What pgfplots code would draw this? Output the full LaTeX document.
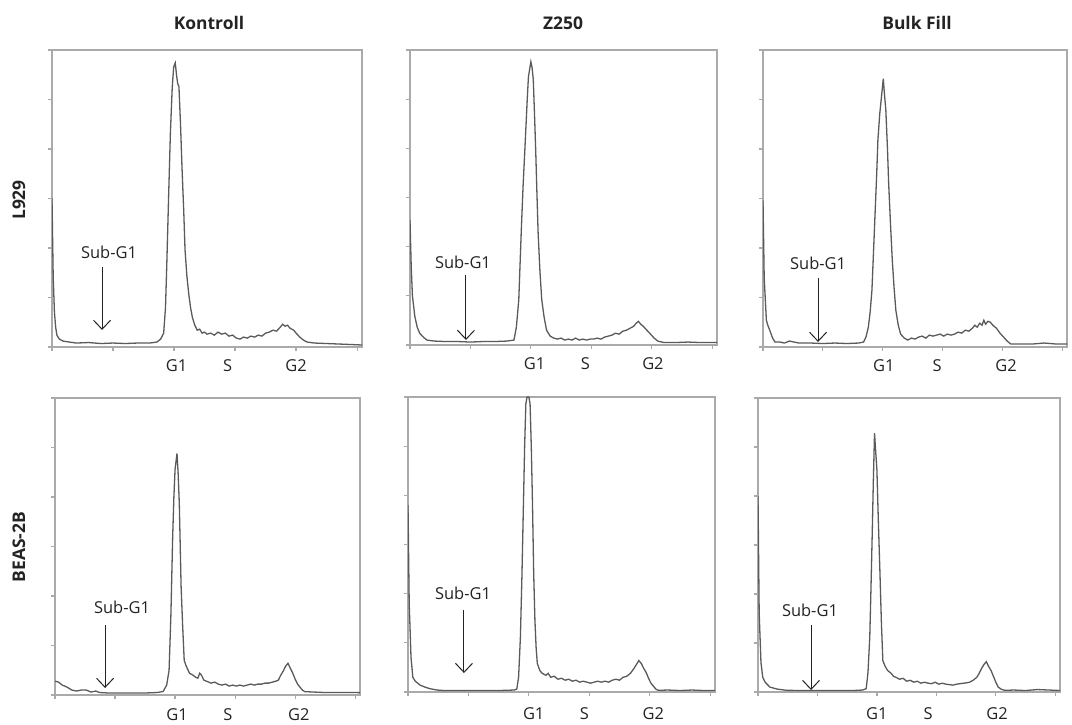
\documentclass[border=0pt]{standalone}
\usepackage{fontspec}
\setmainfont{Open Sans}
\usepackage{pgfplots}
\pgfplotsset{compat=1.18}
\usetikzlibrary{arrows.meta}
\definecolor{curvec}{RGB}{90,90,90}
\definecolor{framec}{RGB}{170,170,170}
\definecolor{txt}{RGB}{35,35,35}

\pgfplotsset{
 hist/.style={scale only axis, xmin=0, xmax=254, ymin=0, ymax=300,
  xtick={0,50,...,250}, ytick={0,50,...,300}, xticklabels={}, yticklabels={},
  tick align=outside, xtick pos=bottom, ytick pos=left, major tick length=4bp,
  tick style={framec, line width=1.2bp}, axis line style={framec, line width=1.6bp},
  clip mode=individual, anchor=south west},
 cv/.style={color=curvec, line width=1.3bp, no markers}
}
\newcommand{\lblfont}{\fontsize{16.5}{19}\selectfont}
\newcommand{\phases}[4]{%
 \node[font=\lblfont, txt, yshift=-#4] at (axis cs:#1,0) {G1};
 \node[font=\lblfont, txt, yshift=-#4] at (axis cs:#2,0) {S};
 \node[font=\lblfont, txt, yshift=-#4] at (axis cs:#3,0) {G2};}
\newcommand{\subg}[5]{%
 \node[font=\lblfont, txt] at (axis cs:#1,#2) {Sub-G1};
 \draw[txt, line width=1bp, -{Straight Barb[length=9bp,width=17bp]}] (axis cs:#3,#4) -- (axis cs:#3,#5);}

\begin{document}
\begin{tikzpicture}
\path[use as bounding box] (0,0) rectangle (1072bp,725bp);

% titles
\node[font=\bfseries\fontsize{17.5}{21}\selectfont, txt] at (209bp,702bp) {Kontroll};
\node[font=\bfseries\fontsize{17.5}{21}\selectfont, txt] at (563bp,702bp) {Z250};
\node[font=\bfseries\fontsize{17.5}{21}\selectfont, txt] at (917bp,702bp) {Bulk Fill};
\node[rotate=90, font=\bfseries\fontsize{17.5}{21}\selectfont, txt] at (19bp,525bp) {L929};
\node[rotate=90, font=\bfseries\fontsize{17.5}{21}\selectfont, txt] at (19bp,178bp) {BEAS-2B};

% ---- Panel 1: Kontroll / L929
\begin{axis}[hist, at={(52bp,378bp)}, width=310bp, height=297bp]
\addplot[cv] coordinates {(0,150) (1,70) (2,35) (3,20) (4,12) (6,8) (9,6) (14,5) (20,4) (30,4.5) (40,3.5) (50,4) (60,3.5) (70,4) (80,4) (86,5) (89,8) (91.5,14) (93,40) (94,81) (95.5,150) (97,216) (98.5,262) (99.7,283) (101,287) (102,275) (103,266) (104,263) (105.3,225) (106.5,182) (108,135) (109,98) (110.5,72) (112,54) (113.5,40) (115,30) (117,22) (119,17) (121,18) (123,14) (125,15) (127,13) (130,14) (133,12) (136,15) (139,13) (142,14) (145,11) (148,12) (151,9) (154,8) (157,10) (160,9) (163,11) (166,10) (169,12) (172,11) (175,14) (178,15) (181,17) (184,16) (187,20) (189,23) (191,21) (193,22) (195,19) (198,17) (200,14) (203,10) (206,7) (209,5) (215,4) (225,3.5) (235,3) (245,2.5) (254,2)};
\subg{46.7}{96}{41}{80.8}{17.2}
\phases{102}{144}{200}{19bp}
\end{axis}

% ---- Panel 2: Z250 / L929
\begin{axis}[hist, at={(410bp,380bp)}, width=307bp, height=295bp]
\addplot[cv] coordinates {(0,127) (1,80) (2,50) (4,29) (6,18) (8,12) (11,8) (14,5) (20,4) (30,3.5) (40,3.5) (50,3) (60,3.5) (70,3.5) (80,4) (86,5) (88,18) (90,46) (92,114) (93.5,160) (95,198) (97,250) (98,273) (100,288) (101,282) (102,270) (103,235) (104,198) (105,155) (106,114) (107.5,75) (109,46) (111,28) (113,15) (116,9) (119,7) (122,6) (125,7) (128,5) (131,6) (134,5) (137,7) (140,5) (143,6) (146,5) (149,6) (152,6) (155,7) (158,6) (161,8) (164,9) (167,10) (170,12) (173,11) (176,14) (179,15) (182,17) (185,19) (187,22) (189,24) (191,21) (193,19) (196,15) (199,11) (202,7) (205,4) (210,2.5) (220,2.5) (230,3) (240,2.5) (254,2.5)};
\subg{43.8}{84.4}{46.3}{71.2}{5.1}
\phases{103}{145}{201}{19bp}
\end{axis}

% ---- Panel 3: Bulk Fill / L929
\begin{axis}[hist, at={(763bp,378bp)}, width=304bp, height=297bp]
\addplot[cv] coordinates {(0,148) (1,70) (2.8,27) (4,22) (5.6,17) (8,9) (10,5) (14,5) (18,4) (22,6) (26,5) (30,4) (40,4) (50,3.5) (60,4) (70,3.5) (80,4) (84,5) (86,10) (88,20) (89.5,35) (91,57) (92.3,95) (93.5,131) (95,175) (96,209) (97.5,235) (99,253) (100.5,271) (101.5,255) (102.6,240) (104,200) (105,165) (106.5,125) (108,88) (109.5,60) (111,37) (113,22) (115,13) (118,9) (121,7) (124,9) (127,8) (130,10) (133,11) (136,9) (139,12) (142,11) (145,12) (148,13) (151,11) (154,13) (157,12) (160,13) (163,15) (166,14) (169,17) (172,16) (175,19) (177,22) (179,20) (181,24) (183,22) (184.5,27) (186,23) (188,26) (190,25) (192,22) (195,19) (198,14) (201,10) (204,6) (207,3) (215,3) (225,3) (235,4) (245,3) (254,3)};
\subg{46}{84.8}{46}{69.7}{5.1}
\phases{101}{145.5}{203}{19bp}
\end{axis}

% ---- Panel 4: Kontroll / BEAS-2B
\begin{axis}[hist, at={(55bp,30bp)}, width=305bp, height=297bp]
\addplot[cv] coordinates {(0,14) (3,13) (6,10) (10,8) (14,5) (18,4) (22,5) (26,5) (30,3) (34,4) (37,2.5) (45,2) (60,2) (75,2) (85,2.5) (90,3.5) (93,10) (95,25) (96.5,80) (98,160) (99,200) (100,228) (101.6,244) (102.5,225) (103.5,194) (104.3,150) (105,110) (106.3,70) (107.6,35) (109,30) (112,22) (115,20) (117,18) (119,17) (120.5,22) (122,20) (124,15) (127,13.5) (130,12) (133,13) (136,11) (139,10) (142,11) (145,9) (148,10) (151,9) (154,10) (157,9) (160,10) (163,11) (166,10) (169,11) (172,11) (175,12) (178,12) (181,13) (184,14) (186,15) (188,20) (190,24) (192,29) (194,32) (196,27) (198,22) (200,16) (202,11) (204,8) (206,5) (208,3.4) (215,3) (225,2.5) (235,2.5) (245,2.5) (254,2.4)};
\subg{55.8}{88.9}{41.7}{70.7}{7.1}
\phases{101.6}{144}{203}{20bp}
\end{axis}

% ---- Panel 5: Z250 / BEAS-2B
\begin{axis}[hist, at={(408bp,33bp)}, width=307bp, height=295bp]
\addplot[cv] coordinates {(0,190) (1,90) (2.5,35) (4,15) (6,11) (10,7) (14,5) (18,3.4) (24,2) (30,1.5) (45,1.5) (60,1.5) (75,1.5) (88,2) (90,3) (91.5,15) (93,56) (94.3,120) (95.5,191) (96.5,250) (97.5,293) (98.5,300) (100,300) (101,293) (102,250) (103,191) (104,120) (105,73) (106,45) (107,29) (109,22) (111,19) (114,17) (116,19) (118,15) (121,16) (124,13) (127,14) (130,12) (133,13) (136,11) (139,12) (142,10) (145,11) (148,10) (151,9) (154,10) (157,11) (160,10) (163,11) (166,10) (169,12) (172,13) (175,12) (178,15) (181,16) (184,19) (187,24) (189,28) (191,32) (193,29) (195,24) (197,20) (199,14) (201,9) (203,6) (205,3) (207,1.7) (215,2) (225,1.5) (235,2) (245,1.5) (254,1.5)};
\subg{45.5}{100.7}{46.3}{83.4}{19.3}
\phases{104}{146}{203}{22bp}
\end{axis}

% ---- Panel 6: Bulk Fill / BEAS-2B
\begin{axis}[hist, at={(758bp,33bp)}, width=302bp, height=294bp]
\addplot[cv] coordinates {(0,200) (1,80) (2.5,30) (4,15) (6,10) (10,5) (16,3) (24,1.7) (40,1.5) (60,1.5) (80,1.5) (88,2) (91,3.4) (92.5,20) (94,56) (95,105) (96,158) (97,215) (98,264) (99,245) (100,227) (101.2,175) (102.5,124) (103.8,70) (105,32) (107,26) (109,22) (112,19) (114,16) (116,15) (119,13) (122,14) (125,11) (128,12) (131,10) (134,11) (137,9) (140,10) (143,9) (146,8.5) (149,10) (152,8) (155,9) (158,8) (161,7.5) (164,7) (167,8) (170,8.5) (173,9) (176,9.5) (178,10) (181,12) (184,15) (186,19) (188,24) (190,28) (192,31) (194,26) (196,22) (198,16) (200,10) (202,5) (205,2.5) (208,1.7) (215,2) (225,1.5) (235,2.5) (245,2) (254,1.5)};
\subg{43.7}{83.7}{44.6}{68.4}{2}
\phases{100}{143}{201}{22bp}
\end{axis}
\end{tikzpicture}
\end{document}
